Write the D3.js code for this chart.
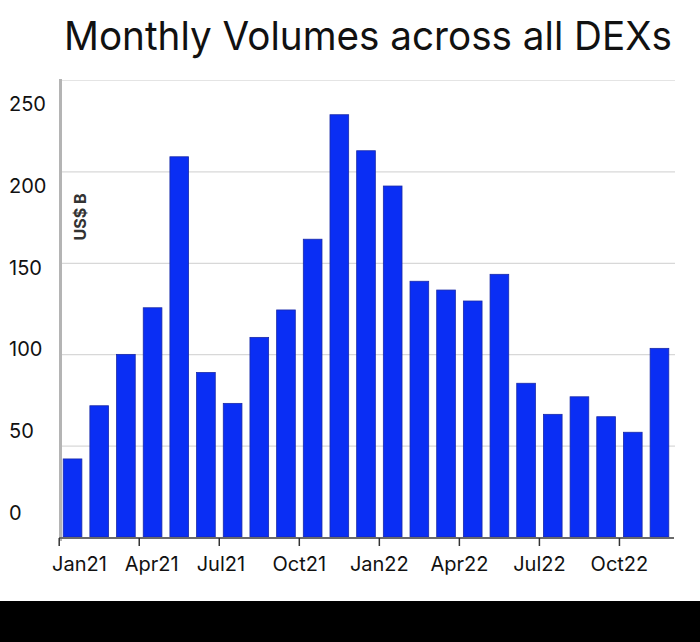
<!DOCTYPE html>
<html>
<head>
<meta charset="utf-8">
<script src="https://cdn.jsdelivr.net/npm/d3@7"></script>
<style>
  html, body { margin: 0; padding: 0; background: #fff; }
  svg { display: block; }
</style>
</head>
<body>
<svg id="chart" width="700" height="642"></svg>
<script>
const title = "Monthly Volumes across all DEXs";
const yAxisTitle = "US$ B";
const months = ["Jan21","Feb21","Mar21","Apr21","May21","Jun21","Jul21","Aug21","Sep21","Oct21","Nov21","Dec21",
                "Jan22","Feb22","Mar22","Apr22","May22","Jun22","Jul22","Aug22","Sep22","Oct22","Nov22"];
const volumes = [42.7, 71.8, 99.9, 125.4, 208.0, 90.0, 73.1, 109.2, 124.2, 162.9, 231.0, 211.3,
                 192.0, 139.9, 135.1, 129.1, 143.7, 84.1, 67.1, 76.7, 65.8, 57.3, 103.2];
const yTicks = [0, 50, 100, 150, 200, 250];
const xTickLabels = ["Jan21","Apr21","Jul21","Oct21","Jan22","Apr22","Jul22","Oct22"];

const svg = d3.select("#chart");
const W = 700, H = 642;

svg.append("rect").attr("x", 0).attr("y", 0).attr("width", W).attr("height", H).attr("fill", "#fff");

const x = d3.scaleBand().domain(months).range([59.2, 672.8]).paddingInner(0.3).paddingOuter(0.15);
const y = d3.scaleLinear().domain([0, 250]).range([537, 80]);
// tick labels in the reference sit on their own spacing
const yLab = d3.scaleLinear().domain([0, 250]).range([513, 103.5]);

const fontMain = "Inter, 'DejaVu Sans', sans-serif";

// title
svg.append("text")
  .attr("x", 64).attr("y", 50)
  .attr("font-family", fontMain)
  .attr("font-size", 40)
  .attr("fill", "#111")
  .attr("textLength", 608)
  .attr("lengthAdjust", "spacingAndGlyphs")
  .text(title);

// gridlines
svg.append("g").selectAll("line").data(yTicks.filter(d => d > 0)).join("line")
  .attr("x1", 60).attr("x2", 675)
  .attr("y1", d => y(d) + 0.5).attr("y2", d => y(d) + 0.5)
  .attr("stroke", d => d === 250 ? "#e4e4e4" : "#d8d8d8")
  .attr("stroke-width", 1.2);

// y tick labels
svg.append("g").selectAll("text").data(yTicks).join("text")
  .attr("x", 9).attr("y", d => yLab(d))
  .attr("dy", "0.36em")
  .attr("font-family", fontMain)
  .attr("font-size", 20)
  .attr("fill", "#111")
  .text(d => d);

// y axis title
svg.append("text")
  .attr("transform", "translate(86,217) rotate(-90)")
  .attr("text-anchor", "middle")
  .attr("font-family", fontMain)
  .attr("font-size", 16)
  .attr("font-weight", 700)
  .attr("fill", "#333")
  .text(yAxisTitle);

// bars
svg.append("g").selectAll("rect").data(months).join("rect")
  .attr("x", d => x(d))
  .attr("width", x.bandwidth())
  .attr("y", (d, i) => y(volumes[i]))
  .attr("height", (d, i) => y(0) - y(volumes[i]))
  .attr("fill", "#0a2ef4")
  .attr("stroke", "#1a2aa8")
  .attr("stroke-width", 0.8);

// left axis line
svg.append("line")
  .attr("x1", 60.5).attr("x2", 60.5).attr("y1", 79).attr("y2", 541)
  .attr("stroke", "#b4b4b4").attr("stroke-width", 3);

// bottom axis line
svg.append("line")
  .attr("x1", 59).attr("x2", 674).attr("y1", 538).attr("y2", 538)
  .attr("stroke", "#6a6a6a").attr("stroke-width", 2);

// x ticks at band boundaries every 3 months
const half = (x.step() - x.bandwidth()) / 2;
const tickX = d => x(d) - half;
svg.append("g").selectAll("line").data(xTickLabels).join("line")
  .attr("x1", tickX).attr("x2", tickX)
  .attr("y1", 538).attr("y2", 546)
  .attr("stroke", "#333").attr("stroke-width", 1.5);

// labels: first starts at the left edge, the rest centre on their tick unless that would crowd the previous label
const labelG = svg.append("g");
let prevRight = -Infinity;
xTickLabels.forEach((d, i) => {
  const t = labelG.append("text")
    .attr("y", 571)
    .attr("text-anchor", "middle")
    .attr("font-family", fontMain)
    .attr("font-size", 20)
    .attr("fill", "#111")
    .text(d);
  const w = t.node().getComputedTextLength();
  let cx = i === 0 ? 52 + w / 2 : Math.max(tickX(d), prevRight + 18 + w / 2);
  t.attr("x", cx);
  prevRight = cx + w / 2;
});

// black band at bottom
svg.append("rect").attr("x", 0).attr("y", 601).attr("width", W).attr("height", H - 601).attr("fill", "#000");
</script>
</body>
</html>
